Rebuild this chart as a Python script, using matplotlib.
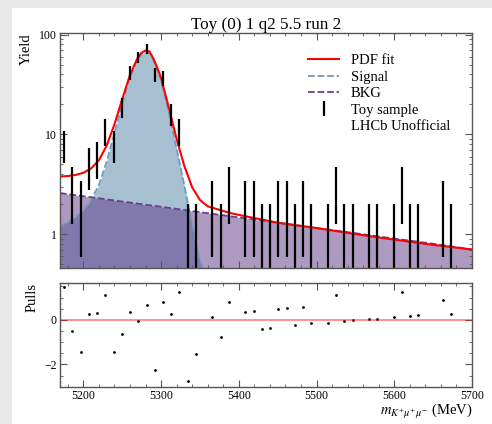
import numpy as np
import matplotlib.pyplot as plt
from matplotlib.lines import Line2D
from matplotlib.patches import Rectangle
from matplotlib.ticker import MultipleLocator, LogLocator, NullFormatter

plt.rcParams['font.family'] = ['Liberation Serif', 'DejaVu Serif']
plt.rcParams['mathtext.fontset'] = 'stix'

# toy sample, 50 bins between 5170 and 5700 MeV
edges = np.linspace(5170, 5700, 51)
counts = np.array([8, 3, 2, 5, 6, 11, 8, 19, 42, 60,
                   73, 40, 37, 16, 11, 1, 1, 0, 2, 1,
                   3, 0, 2, 2, 1, 1, 2, 2, 1, 2,
                   1, 0, 1, 3, 1, 1, 0, 1, 1, 0,
                   1, 3, 1, 1, 0, 0, 2, 1, 0, 0])
pulls = np.array([1.48, -0.49, -1.46, 0.27, 0.30, 1.12, -1.43, -0.63, 0.36, -0.03,
                  0.69, -2.24, 0.79, 0.27, 1.23, -2.75, -1.52, np.nan, 0.12, -0.75,
                  0.79, np.nan, 0.35, 0.39, -0.42, -0.36, 0.49, 0.52, -0.24, 0.58,
                  -0.16, np.nan, -0.12, 1.13, -0.04, -0.01, np.nan, 0.04, 0.06, np.nan,
                  0.13, 1.25, 0.18, 0.21, np.nan, np.nan, 0.90, 0.28, np.nan, np.nan])

# fitted curves
fit_mass = [5170, 5180, 5190, 5200, 5210, 5220, 5230, 5240, 5250, 5260, 5270, 5275,
            5280, 5285, 5290, 5295, 5300, 5310, 5320, 5330, 5340, 5350, 5360, 5375,
            5390, 5410, 5450, 5500, 5550, 5600, 5650, 5700]
fit_total = [3.78, 3.82, 3.92, 4.12, 4.55, 5.5, 7.7, 12.6, 22.5, 39.5, 59, 66,
             69.5, 68, 58, 47, 37, 18.5, 9.0, 4.8, 2.95, 2.2, 1.9, 1.75,
             1.62, 1.5, 1.3, 1.15, 1.0, 0.88, 0.78, 0.70]
sig_mass = [5170, 5180, 5190, 5200, 5210, 5220, 5230, 5240, 5250, 5260, 5270, 5275,
            5280, 5285, 5290, 5295, 5300, 5310, 5320, 5330, 5340, 5350, 5355, 5360, 5380]
sig_yield = [1.19, 1.33, 1.5, 1.72, 2.2, 3.1, 5.3, 10.2, 20.4, 37.4, 57, 64,
             67.5, 66, 56, 45, 35, 16.7, 7.2, 3.05, 1.25, 0.54, 0.42, 0.28, 0.16]
bkg_mass = [5170, 5200, 5250, 5300, 5350, 5400, 5450, 5500, 5550, 5600, 5650, 5700]
bkg_yield = [2.58, 2.40, 2.12, 1.88, 1.66, 1.47, 1.30, 1.15, 1.02, 0.90, 0.80, 0.70]

centres = 0.5 * (edges[1:] + edges[:-1])
filled = counts > 0

sig_col = '#4f82a6'
bkg_col = '#5e3485'
axis_col = '#555555'

fig = plt.figure(figsize=(4.92, 4.24), dpi=100, facecolor='#e8e8e8')
fig.patches.append(Rectangle((12 / 492, 0), 1, 1 - 8 / 424, transform=fig.transFigure,
                             facecolor='white', edgecolor='none', zorder=-1))

ax = fig.add_axes([60 / 492, 1 - 267.7 / 424, 412 / 492, 234.7 / 424])
ax2 = fig.add_axes([60 / 492, 1 - 386.7 / 424, 412 / 492, 104 / 424], sharex=ax)

ax.set_yscale('log')
ax.fill_between(sig_mass, sig_yield, 1e-2, color=sig_col, alpha=0.5, lw=0)
ax.fill_between(bkg_mass, bkg_yield, 1e-2, color=bkg_col, alpha=0.5, lw=0)
ax.plot(sig_mass, sig_yield, '--', color='#6b9bc3', lw=1.3)
ax.plot(bkg_mass, bkg_yield, '--', color='#6a3d8f', lw=1.3)
ax.plot(fit_mass, fit_total, '-', color='red', lw=1.5)
toy = ax.errorbar(centres[filled], counts[filled], yerr=np.sqrt(counts[filled]),
                  fmt='none', ecolor='black', elinewidth=1.6, capsize=0)

ax.set_xlim(5170, 5700)
ax.set_ylim(0.46, 104)
ax.set_title('Toy (0) 1 q2 5.5 run 2', fontsize=12.3, pad=3)
ax.set_ylabel('Yield', fontsize=10.5, loc='top')
ax.yaxis.set_major_locator(LogLocator(base=10))
ax.yaxis.set_minor_locator(LogLocator(base=10, subs=np.arange(2, 10)))
ax.yaxis.set_minor_formatter(NullFormatter())
ax.set_yticks([1, 10, 100], ['1', '10', '100'])
ax.tick_params(labelbottom=False)

handles = [Line2D([], [], color='red', lw=1.5),
           Line2D([], [], color='#6b9bc3', ls='--', lw=1.3),
           Line2D([], [], color='#6a3d8f', ls='--', lw=1.3),
           toy,
           Line2D([], [], ls='none')]
labels = ['PDF fit', 'Signal', 'BKG', 'Toy sample', 'LHCb Unofficial']
ax.legend(handles, labels, loc='upper left', bbox_to_anchor=(301 / 492, 1 - 47 / 424),
          bbox_transform=fig.transFigure, frameon=False, fontsize=10.5,
          borderpad=0, handlelength=2.1, handletextpad=0.8, labelspacing=0.22)

ax2.plot(centres, pulls, '.', color='black', ms=2)
ax2.axhline(0, color='red', alpha=0.5, lw=1.2)
ax2.set_ylim(-3, 1.67)
ax2.yaxis.set_major_locator(MultipleLocator(2))
ax2.yaxis.set_minor_locator(MultipleLocator(0.5))
ax2.set_ylabel('Pulls', fontsize=10.5, loc='top')
ax2.xaxis.set_major_locator(MultipleLocator(100))
ax2.xaxis.set_minor_locator(MultipleLocator(20))
ax2.set_xlabel(r'$m_{K^{+}\mu^{+}\mu^{-}}$ (MeV)', fontsize=10.5, loc='right', labelpad=0)

for a in (ax, ax2):
    a.tick_params(which='both', direction='in', top=True, right=True,
                  colors=axis_col, labelcolor='black', labelsize=8.5, pad=2.5)
    a.tick_params(which='major', length=5, width=0.8)
    a.tick_params(which='minor', length=2.5, width=0.6)
    for s in a.spines.values():
        s.set_color(axis_col)
        s.set_linewidth(1.0)

fig.savefig('out.png', dpi=100, facecolor=fig.get_facecolor())
